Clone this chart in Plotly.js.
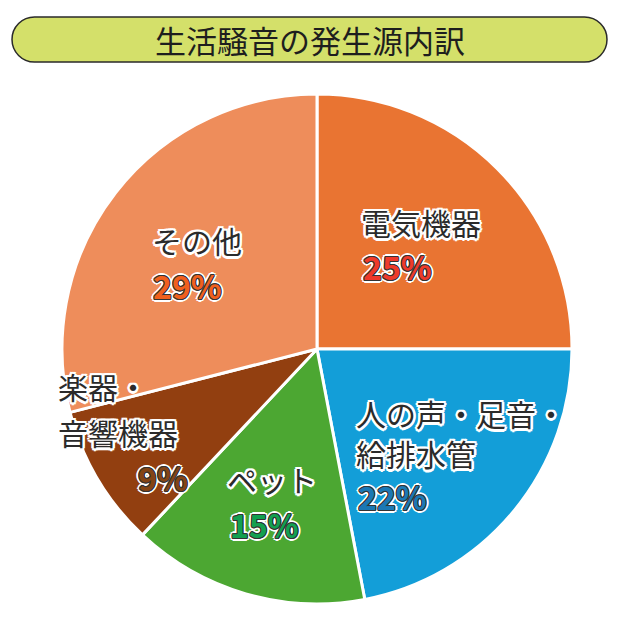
<!DOCTYPE html>
<html>
<head>
<meta charset="utf-8">
<script src="https://cdn.plot.ly/plotly-3.0.1.min.js"></script>
<style>
  html, body { margin: 0; padding: 0; background: #fff; }
  #chart { width: 620px; height: 620px; }
</style>
</head>
<body>
<div id="chart"></div>
<script>
// chart data
const chartTitle = '生活騒音の発生源内訳';
const categories = ['電気機器', '人の声・足音・給排水管', 'ペット', '楽器・音響機器', 'その他'];
const shares = [25, 22, 15, 9, 29];
const labelLines = [['電気機器'], ['人の声・足音・', '給排水管'], ['ペット'], ['楽器・', '音響機器'], ['その他']];
const sliceColors = ['#e97432', '#139ed8', '#4ca732', '#923f10', '#ee8d5b'];
const pctColors = ['#ee3a2a', '#1b78b4', '#12a050', '#844414', '#f0601e'];

const W = 620, H = 620;
const px = x => x / W;
const py = y => 1 - y / H;

// label placement (left edge, line centres) in pixels
const labelPos = [
    { x: 359, lines: [222], pctX: 361, pctY: 266 },
    { x: 354, lines: [413, 453], pctX: 356, pctY: 496 },
    { x: 225, lines: [479], pctX: 228, pctY: 524 },
    { x: 56, lines: [386, 432], pctX: 136, pctY: 477 },
    { x: 150, lines: [240], pctX: 151, pctY: 285 }
];

const fontFamily = '"Noto Sans CJK JP", "Noto Sans", sans-serif';

function outline(color, w) {
    const d = (w * 0.7).toFixed(2);
    return [
        `${w}px 0 ${color}`, `-${w}px 0 ${color}`, `0 ${w}px ${color}`, `0 -${w}px ${color}`,
        `${d}px ${d}px ${color}`, `-${d}px ${d}px ${color}`, `${d}px -${d}px ${color}`, `-${d}px -${d}px ${color}`
    ];
}
const nameShadow = outline('#fff', 2.5).join(', ');
const pctShadow = outline('#333', 1).concat(outline('#fff', 3)).join(', ');

const annotations = [];
categories.forEach((cat, i) => {
    const p = labelPos[i];
    labelLines[i].forEach((line, j) => {
        annotations.push({
            xref: 'paper', yref: 'paper',
            x: px(p.x), y: py(p.lines[j]),
            xanchor: 'left', yanchor: 'middle',
            text: line, showarrow: false,
            font: { family: fontFamily, size: 30, color: '#2b2b2b', shadow: nameShadow }
        });
    });
    annotations.push({
        xref: 'paper', yref: 'paper',
        x: px(p.pctX), y: py(p.pctY),
        xanchor: 'left', yanchor: 'middle',
        text: shares[i] + '%', showarrow: false,
        font: { family: fontFamily, size: 32, weight: 'bold', color: pctColors[i], shadow: pctShadow }
    });
});

// title text
annotations.push({
    xref: 'paper', yref: 'paper',
    x: 0.5, y: py(40),
    xanchor: 'center', yanchor: 'middle',
    text: chartTitle, showarrow: false,
    font: { family: fontFamily, size: 31, color: '#1e1e1e' }
});

// rounded title box
function pill(x0, y0, x1, y1) {
    const r = (y1 - y0) / 2, ym = (y0 + y1) / 2, k = 0.5523 * r;
    const P = (x, y) => `${px(x)},${py(y)}`;
    return `M${P(x0 + r, y0)} L${P(x1 - r, y0)} ` +
        `C${P(x1 - r + k, y0)} ${P(x1, ym - k)} ${P(x1, ym)} ` +
        `C${P(x1, ym + k)} ${P(x1 - r + k, y1)} ${P(x1 - r, y1)} ` +
        `L${P(x0 + r, y1)} ` +
        `C${P(x0 + r - k, y1)} ${P(x0, ym + k)} ${P(x0, ym)} ` +
        `C${P(x0, ym - k)} ${P(x0 + r - k, y0)} ${P(x0 + r, y0)} Z`;
}

const trace = {
    type: 'pie',
    labels: categories,
    values: shares,
    sort: false,
    direction: 'clockwise',
    rotation: 0,
    textinfo: 'none',
    hoverinfo: 'label+percent',
    marker: { colors: sliceColors, line: { color: '#ffffff', width: 3 } },
    domain: { x: [px(62), px(572)], y: [py(604), py(94)] }
};

const layout = {
    width: W,
    height: H,
    margin: { l: 0, r: 0, t: 0, b: 0 },
    showlegend: false,
    paper_bgcolor: '#ffffff',
    shapes: [{
        type: 'path',
        xref: 'paper', yref: 'paper',
        path: pill(12, 17, 607, 62),
        fillcolor: '#d4e06a',
        line: { color: '#2a2a2a', width: 1.5 },
        layer: 'below'
    }],
    annotations: annotations
};

Plotly.newPlot('chart', [trace], layout, { displayModeBar: false, staticPlot: true });
</script>
</body>
</html>
